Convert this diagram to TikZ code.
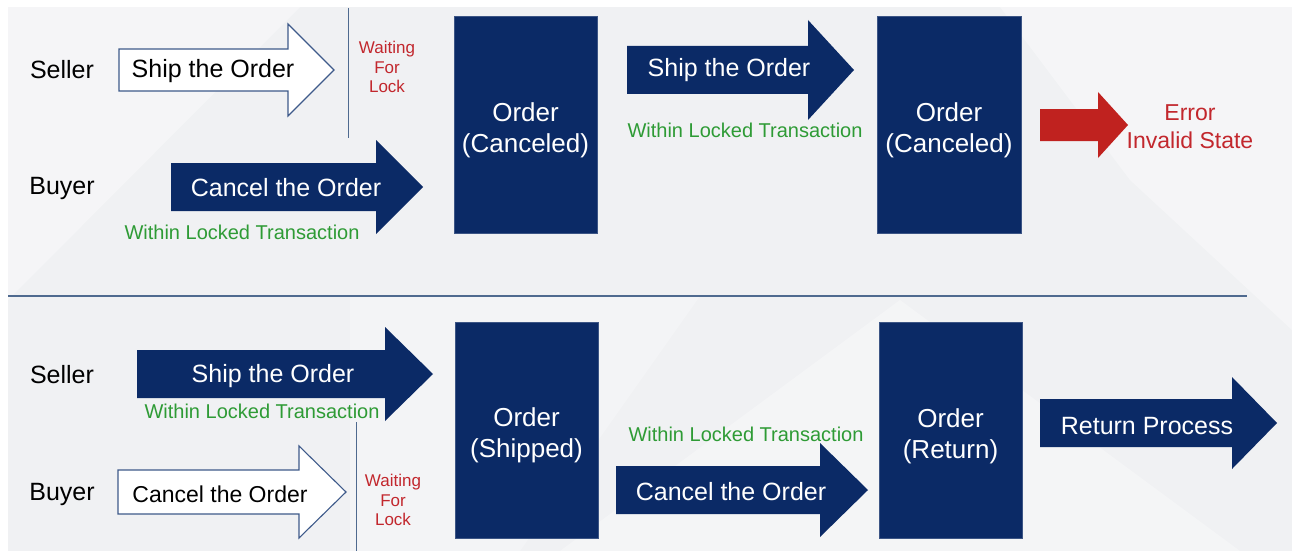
\documentclass[tikz,border=0pt]{standalone}
\usepackage{fontspec}
\setmainfont{Liberation Sans}
\begin{document}
\begin{tikzpicture}[x=1pt,y=-1pt,
  navy/.style={fill=navyc,draw=none},
  hollow/.style={fill=white,draw=outlc,line width=1.1pt,line join=miter},
  redarrow/.style={fill=redc,draw=none},
  state/.style={fill=navyc,draw=navyc!80!white,line width=0.6pt,inner sep=0pt},
  statetext/.style={text=white,inner sep=0pt,align=center,font=\fontsize{26}{31}\selectfont},
  role/.style={text=black,inner sep=0pt,font=\fontsize{25}{30}\selectfont},
  wlabel/.style={text=white,inner sep=0pt,font=\fontsize{25}{30}\selectfont},
  blabel/.style={text=black,inner sep=0pt,font=\fontsize{25}{30}\selectfont},
  green/.style={text=greenc,inner sep=0pt,font=\fontsize{20}{24}\selectfont},
  waitlbl/.style={text=redtc,inner sep=0pt,align=center,font=\fontsize{17}{19.5}\selectfont},
  errlbl/.style={text=redtc,inner sep=0pt,align=center,font=\fontsize{23}{28}\selectfont},
  sep/.style={draw=linec,line width=1.3pt}]
\definecolor{navyc}{HTML}{0B2A66}
\definecolor{outlc}{HTML}{3E5A8A}
\definecolor{redc}{HTML}{C0221F}
\definecolor{redtc}{HTML}{C2272D}
\definecolor{greenc}{HTML}{2E9B35}
\definecolor{linec}{HTML}{4F6A8F}
\definecolor{bgc}{HTML}{F0F1F3}
\newcommand\blockarrow[7]{%
  \path[#1] (#2,#5-#6) -- (#3,#5-#6) -- (#3,#5-#7) -- (#4,#5) -- (#3,#5+#7) -- (#3,#5+#6) -- (#2,#5+#6) -- cycle;}
% background
\fill[white] (0,0) rectangle (1299,551);
\useasboundingbox (0,0) rectangle (1299,551);
\fill[bgc] (8,7) rectangle (1292,551);
\fill[white,opacity=0.35] (8,7) -- (300,7) -- (8,300) -- cycle;
\fill[white,opacity=0.35] (1000,7) -- (1292,7) -- (1292,330) -- (1130,180) -- cycle;
\fill[white,opacity=0.3] (560,551) -- (900,300) -- (1240,551) -- cycle;
\fill[white,opacity=0.25] (350,296) -- (700,296) -- (520,551) -- (350,551) -- cycle;
% ===== top section =====
\node[role] (s1) at (62,70) {Seller};
\node[role] (b1) at (62,188) {Buyer};
\blockarrow{hollow}{119}{288}{334}{70}{21}{46}
\node[blabel] (a1) at (213,71) {Ship the Order};
\coordinate (l1t) at (348,8);
\coordinate (l1b) at (348,138);
\draw[sep,line width=1pt] (l1t) -- (l1b);
\node[waitlbl] (w1) at (387,67) {Waiting\\For\\Lock};
\blockarrow{navy}{171}{376}{423}{187}{24}{47}
\node[wlabel] (a2) at (286,188) {Cancel the Order};
\node[green] (g1) at (242,232) {Within Locked Transaction};
\node[state,minimum width=143pt,minimum height=217pt] (o1) at (525.5,124.5) {};
\node[statetext] (o1t) at (525.5,130) {Order\\(Canceled)};
\blockarrow{navy}{627}{808}{854}{70}{24}{50}
\node[wlabel] (a3) at (729,70) {Ship the Order};
\node[green] (g2) at (745,130) {Within Locked Transaction};
\node[state,minimum width=144pt,minimum height=217pt] (o2) at (949,124.5) {};
\node[statetext] (o2t) at (949,130) {Order\\(Canceled)};
\blockarrow{redarrow}{1040}{1098}{1128}{125}{16}{33}
\node[errlbl] (e1) at (1190,127) {Error\\Invalid State};
% divider
\coordinate (dl) at (8,296);
\coordinate (dr) at (1247,296);
\draw[sep] (dl) -- (dr);
% ===== bottom section =====
\node[role] (s2) at (62,375) {Seller};
\node[role] (b2) at (62,494) {Buyer};
\blockarrow{navy}{137}{385}{433}{374}{24}{47}
\node[wlabel] (a4) at (273,376) {Ship the Order};
\node[green] (g3) at (262,411) {Within Locked Transaction};
\coordinate (l2t) at (356,422);
\coordinate (l2b) at (356,551);
\draw[sep,line width=1pt] (l2t) -- (l2b);
\blockarrow{hollow}{118}{299}{346}{492}{22}{46}
\node[blabel,font=\fontsize{23}{28}\selectfont] (a5) at (220,494) {Cancel the Order};
\node[waitlbl] (w2) at (393,500) {Waiting\\For\\Lock};
\node[state,minimum width=143pt,minimum height=216pt] (o3) at (526.5,430) {};
\node[statetext] (o3t) at (526.5,435) {Order\\(Shipped)};
\node[green] (g4) at (746,434) {Within Locked Transaction};
\blockarrow{navy}{616}{820}{868}{490}{24}{47}
\node[wlabel] (a6) at (731,492) {Cancel the Order};
\node[state,minimum width=143pt,minimum height=216pt] (o4) at (950.5,430) {};
\node[statetext] (o4t) at (950.5,436) {Order\\(Return)};
\blockarrow{navy}{1040}{1232}{1277}{423}{24}{46}
\node[wlabel] (a7) at (1147,426) {Return Process};
\end{tikzpicture}
\end{document}
